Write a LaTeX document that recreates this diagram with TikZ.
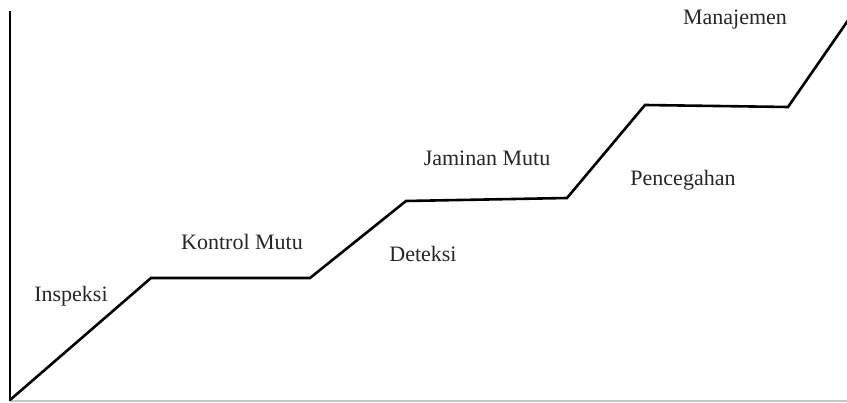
\documentclass[tikz,border=0pt]{standalone}
\usepackage{fontspec}
\setmainfont{Liberation Serif}
\begin{document}
\begin{tikzpicture}[x=1pt,y=-1pt,
  lbl/.style={font=\fontsize{22}{24}\selectfont, text=black!85, inner sep=0pt},
  stair/.style={line width=2.6pt, line join=miter, black},
  yaxis/.style={line width=2.6pt, black},
  xaxis/.style={line width=2pt, black!22}]
\useasboundingbox (0,0) rectangle (847,403);
\coordinate (o) at (10,401);
\coordinate (top) at (10,11);
\coordinate (xend) at (847,401);
\coordinate (p0) at (10,400);
\coordinate (p1) at (151,278);
\coordinate (p2) at (310,278);
\coordinate (p3) at (406,201);
\coordinate (p4) at (567,198);
\coordinate (p5) at (645,105);
\coordinate (p6) at (788,107);
\coordinate (p7) at (849,19);
\draw[xaxis] (o) -- (xend);
\draw[yaxis] (o) -- (top);
\draw[stair] (p0) -- (p1) -- (p2) -- (p3) -- (p4) -- (p5) -- (p6) -- (p7);
\node[lbl] (inspeksi) at (71,296) {Inspeksi};
\node[lbl] (kontrol) at (242,242) {Kontrol Mutu};
\node[lbl] (deteksi) at (423,254) {Deteksi};
\node[lbl] (jaminan) at (487,158) {Jaminan Mutu};
\node[lbl] (pencegahan) at (683,180) {Pencegahan};
\node[lbl] (manajemen) at (735,20) {Manajemen};
\end{tikzpicture}
\end{document}
